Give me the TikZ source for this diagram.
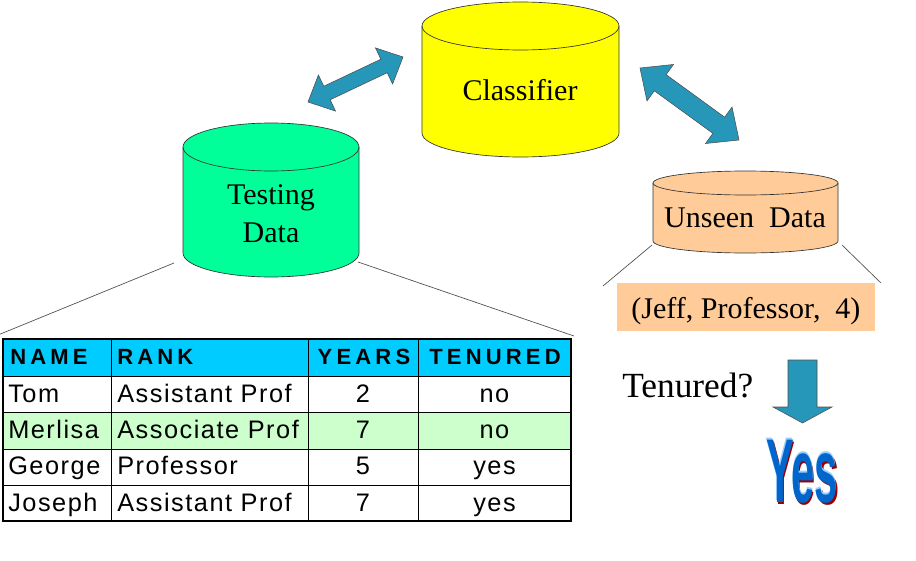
\documentclass[tikz,border=0pt]{standalone}
\usepackage{fontspec}
\setmainfont{Liberation Serif}
\newfontfamily\tabfont[LetterSpace=6]{Liberation Sans}
\newfontfamily\headfont[LetterSpace=19]{Liberation Sans}
\newfontfamily\yesfont{Liberation Sans}
\usetikzlibrary{calc}
\definecolor{arrowteal}{HTML}{2797B9}
\definecolor{clsyellow}{HTML}{FFFF00}
\definecolor{testgreen}{HTML}{00FF99}
\definecolor{unseenorange}{HTML}{FFCC99}
\definecolor{headcyan}{HTML}{00CCFF}
\definecolor{rowgreen}{HTML}{CCFFCC}
\definecolor{yesblue}{HTML}{0066CC}
\definecolor{yesred}{HTML}{990000}
\definecolor{yesedge}{HTML}{99CCFF}

% cylinder: colour, centre x, top y, bottom y, x radius, y radius
\newcommand{\datacyl}[6]{%
  \filldraw[cylline, fill=#1] (#2-#5,#3) -- (#2-#5,#4)
    arc[start angle=180, end angle=0, x radius=#5, y radius=#6] -- (#2+#5,#3)
    arc[start angle=0, end angle=-180, x radius=#5, y radius=#6] -- cycle;
  \draw[cylline] (#2-#5,#3) arc[start angle=180, end angle=0, x radius=#5, y radius=#6];
}
% double block arrow: from, to, head length, shaft half width, head half width
\newcommand{\bigarrow}[5]{%
  \filldraw[blockarrow] (#1) -- ($(#1)!#3!(#2)!#5!90:(#2)$) -- ($(#1)!#3!(#2)!#4!90:(#2)$)
    -- ($(#2)!#3!(#1)!#4!-90:(#1)$) -- ($(#2)!#3!(#1)!#5!-90:(#1)$) -- (#2)
    -- ($(#2)!#3!(#1)!#5!90:(#1)$) -- ($(#2)!#3!(#1)!#4!90:(#1)$)
    -- ($(#1)!#3!(#2)!#4!-90:(#2)$) -- ($(#1)!#3!(#2)!#5!-90:(#2)$) -- cycle;
}
% shadowed answer word
\newcommand{\yesword}[1]{%
  \rlap{\hspace{2.2pt}\raisebox{-2.2pt}{\color{yesred}#1}}%
  \rlap{\hspace{-0.8pt}\raisebox{0.8pt}{\color{yesedge}#1}}%
  {\color{yesblue}#1}}

\begin{document}
\begin{tikzpicture}[x=0.75pt, y=-0.75pt,
    cylline/.style={draw=black!80, line width=0.5pt},
    blockarrow/.style={fill=arrowteal, draw=black!70, line width=0.4pt},
    thinline/.style={draw=black!70, line width=0.5pt},
    bigtext/.style={font=\fontsize{22.5}{28.5}\selectfont, inner sep=0pt},
    cell/.style={font=\tabfont\fontsize{19}{19}\selectfont, inner sep=0pt},
    headcell/.style={font=\headfont\bfseries\fontsize{16.5}{16.5}\selectfont, inner sep=0pt},
]
    \useasboundingbox (0,0) rectangle (916,560);

    % data stores
    \datacyl{clsyellow}{520.5}{26}{133}{98.5}{24}
    \datacyl{testgreen}{271}{147}{253}{88}{24}
    \datacyl{unseenorange}{745.5}{183}{241}{92.5}{12}

    \node[bigtext, anchor=base] (classifier) at (520,100) {Classifier};
    \node[bigtext, align=center] (testing) at (271,214) {Testing\\Data};
    \node[bigtext, anchor=base] (unseen) at (745,227) {Unseen~~Data};

    % block arrows
    \coordinate (testtip) at (308,102);
    \coordinate (clsleft) at (403,57);
    \coordinate (clsright) at (640,68);
    \coordinate (unseentip) at (739,140);
    \bigarrow{testtip}{clsleft}{15.75pt}{5.6pt}{15pt}
    \bigarrow{clsright}{unseentip}{18.75pt}{7.5pt}{16.9pt}

    % zoom lines
    \coordinate (testbl) at (174,263);
    \coordinate (testbr) at (358,262);
    \coordinate (tabtl) at (-2,335);
    \coordinate (tabtr) at (574,336);
    \coordinate (unseenbl) at (652,245);
    \coordinate (unseenbr) at (842,245);
    \coordinate (querybl) at (603,286);
    \coordinate (querybr) at (881,283);
    \draw[thinline] (testbl) -- (tabtl);
    \draw[thinline] (testbr) -- (tabtr);
    \draw[thinline] (unseenbl) -- (querybl);
    \draw[thinline] (unseenbr) -- (querybr);

    % table
    \fill[headcyan] (3,339) rectangle (571,376);
    \fill[rowgreen] (3,412.5) rectangle (571,449);
    \foreach \y in {376,412.5,449,485}
        \draw[line width=0.75pt] (3,\y) -- (571,\y);
    \foreach \x in {111,308,418}
        \draw[line width=0.75pt] (\x,339) -- (\x,521);
    \draw[line width=1.2pt] (3,339) rectangle (571,521);

    \node[headcell, anchor=base west] (hname) at (10,364) {NAME};
    \node[headcell, anchor=base west] (hrank) at (117,364) {RANK};
    \node[headcell, anchor=base] (hyears) at (364,364) {YEARS};
    \node[headcell, anchor=base] (htenured) at (495,364) {TENURED};
    \foreach \nm/\rk/\yr/\tn [count=\r] in {Tom/Assistant Prof/2/no,
        Merlisa/Associate Prof/7/no, George/Professor/5/yes, Joseph/Assistant Prof/7/yes} {
        \node[cell, anchor=base west] (name\r) at (8,366+36.25*\r) {\nm};
        \node[cell, anchor=base west] (rank\r) at (117,366+36.25*\r) {\rk};
        \node[cell, anchor=base] (years\r) at (363,366+36.25*\r) {\yr};
        \node[cell, anchor=base] (tenured\r) at (494.5,366+36.25*\r) {\tn};
    }

    % query
    \fill[unseenorange] (617,283) rectangle (875,331);
    \node[bigtext, anchor=base] (query) at (746,318) {(Jeff, Professor,~~4)};
    \node[font=\fontsize{26.5}{26.5}\selectfont, inner sep=0pt, anchor=base west] (question) at (622,397) {Tenured?};

    % down arrow
    \filldraw[blockarrow] (788,360) -- (817,360) -- (817,407) -- (832,407)
        -- (802.5,423) -- (773,407) -- (788,407) -- cycle;

    % answer
    \node[font=\yesfont\bfseries\fontsize{68}{68}\selectfont, xscale=0.46, inner sep=0pt, anchor=base] (yes) at (802,502) {\yesword{Yes}};
\end{tikzpicture}
\end{document}
